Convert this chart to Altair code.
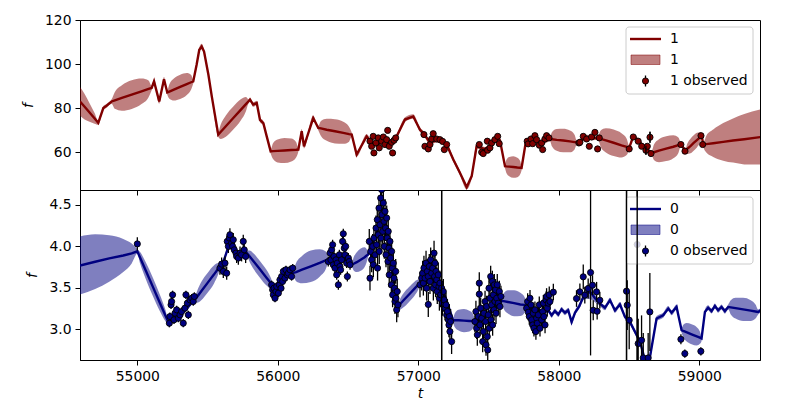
import altair as alt
import pandas as pd

T_MIN, T_MAX = 54592, 59432
X_TICKS = [55000, 56000, 57000, 58000, 59000]

# ---------------- panel "1" (top) : model curve ----------------
top_t = [54592, 54625, 54660, 54695, 54722, 54758, 54782, 54817, 54840, 54890, 54960, 55030, 55080, 55102,
         55119, 55156, 55190, 55213, 55228, 55260, 55305, 55352, 55383, 55398, 55422, 55441, 55458, 55475,
         55506, 55530, 55576, 55593, 55630, 55683, 55736, 55773, 55790, 55802, 55825, 55850, 55873, 55897,
         55921, 55949, 55965, 55998, 56047, 56096, 56130, 56146, 56170, 56186, 56252, 56288, 56307, 56348,
         56407, 56466, 56507, 56526, 56561, 56632, 56680, 56720, 56760, 56800, 56846, 56905, 56964, 57012,
         57040, 57083, 57131, 57202, 57249, 57296, 57344, 57380, 57415, 57474, 57524, 57567, 57581, 57617,
         57627, 57647, 57676, 57705, 57725, 57735, 57766, 57800, 57850, 57900, 57937, 57952, 57985, 58032,
         58079, 58112, 58127, 58160, 58200, 58240, 58280, 58298, 58335, 58390, 58446, 58483, 58501, 58530,
         58565, 58613, 58661, 58677, 58713, 58764, 58815, 58851, 58867, 58903, 58914, 58937, 58960, 58983,
         59006, 59017, 59028, 59050, 59099, 59170, 59240, 59320, 59437]
top_mean = [83.1, 80.7, 78.1, 75.5, 73.4, 80.1, 81.2, 83.1, 83.6, 84.7, 86.2, 87.7, 88.8, 89.2,
            92.2, 83.1, 93.2, 87.2, 87.6, 88.5, 89.7, 91.0, 91.8, 92.2, 99.7, 106.5, 108.0, 105.7,
            95.2, 85.4, 68.1, 69.3, 71.9, 75.6, 79.3, 81.9, 83.1, 83.9, 81.7, 82.4, 74.8, 73.3,
            67.3, 60.5, 60.6, 60.7, 60.9, 61.1, 61.2, 61.3, 69.6, 62.8, 75.6, 71.1, 70.9, 70.3,
            69.6, 68.9, 68.3, 68.1, 59.1, 67.3, 63.5, 64.0, 65.0, 63.8, 67.3, 74.9, 76.3, 70.3,
            68.5, 64.5, 65.5, 63.5, 56.8, 50.8, 44.3, 49.3, 62.8, 61.5, 64.0, 66.5, 65.5, 53.8,
            53.7, 53.6, 53.4, 53.2, 53.1, 53.0, 65.1, 65.5, 64.5, 65.0, 66.1, 66.0, 65.7, 65.4,
            65.0, 64.7, 64.6, 65.5, 67.0, 66.5, 66.6, 66.2, 65.5, 64.4, 63.2, 62.5, 62.1, 67.3,
            65.5, 62.1, 59.8, 60.1, 60.8, 61.7, 62.6, 63.3, 63.6, 60.9, 61.6, 62.9, 64.3, 65.6,
            66.9, 67.6, 63.6, 63.8, 64.2, 64.8, 65.4, 66.0, 67.0]
top_hw = [6.5, 5.8, 4.2, 2.5, 0.9, 0.9, 0.9, 1.0, 3.8, 5.8, 6.5, 5.8, 3.8, 1.0,
          1.0, 1.0, 1.0, 1.0, 3.3, 5.0, 5.5, 5.0, 3.3, 1.0, 1.0, 1.0, 1.2, 1.0,
          1.0, 1.0, 1.0, 3.2, 4.8, 5.2, 4.8, 3.2, 1.0, 1.0, 1.0, 1.0, 1.0, 1.0,
          1.0, 1.0, 3.5, 5.2, 5.7, 5.2, 3.5, 1.0, 1.0, 1.0, 1.0, 1.0, 3.4, 5.0,
          5.5, 5.0, 3.4, 1.0, 1.0, 1.0, 1.0, 1.0, 1.0, 1.0, 1.0, 1.0, 1.0, 1.0,
          1.0, 1.0, 1.0, 1.0, 1.0, 1.0, 1.0, 1.0, 1.0, 1.0, 1.0, 1.0, 1.0, 1.0,
          3.0, 4.4, 4.9, 4.4, 3.0, 1.0, 1.0, 1.0, 1.0, 1.0, 1.0, 3.3, 4.9, 5.3,
          4.9, 3.3, 1.0, 1.0, 1.0, 1.0, 1.0, 3.7, 5.5, 6.0, 5.5, 3.7, 1.0, 1.0,
          1.0, 1.0, 1.0, 3.5, 5.2, 5.6, 5.2, 3.5, 1.0, 1.0, 2.3, 3.3, 3.5, 3.3,
          2.3, 1.0, 1.0, 3.8, 6.2, 8.5, 10.0, 11.4, 12.5]

# ---------------- panel "1" (top) : observations ----------------
top_obs_t = [56656, 56668, 56679, 56684, 56698, 56715, 56722, 56739, 56751, 56763, 56775, 56782, 56793,
             56810, 56817, 56827, 56839,
             57040, 57047, 57071, 57083, 57095, 57106, 57131, 57154, 57173, 57185, 57202,
             57434, 57451, 57462, 57491, 57493, 57510, 57522, 57545, 57565, 57576,
             57775, 57782, 57802, 57814, 57830, 57842, 57861, 57878, 57885, 57901, 57913, 57930,
             58143, 58150, 58174, 58198, 58217, 58233, 58257, 58276, 58288,
             58501, 58530, 58565, 58590, 58620, 58630, 58649, 58656,
             58869, 58898, 59012, 59024]
top_obs_v = [65.1, 62.8, 67.3, 59.8, 64.3, 66.6, 62.1, 65.1, 67.0, 63.6, 65.8, 70.0, 62.8,
             64.6, 59.8, 65.5, 66.6,
             68.1, 62.8, 61.6, 63.6, 66.1, 68.5, 66.1, 65.8, 65.0, 61.3, 63.6,
             63.6, 60.1, 59.5, 65.1, 61.0, 62.1, 64.3, 65.8, 67.3, 64.0,
             65.1, 63.9, 66.1, 64.0, 67.6, 65.8, 63.3, 64.3, 61.3, 66.1, 67.6, 66.6,
             64.3, 64.6, 67.3, 66.1, 62.8, 67.0, 69.1, 61.6, 66.6,
             61.6, 67.0, 65.1, 62.8, 61.0, 62.8, 66.9, 59.5,
             63.6, 60.6, 67.6, 63.6]
top_obs_e = [1.0] * 17 + [1.0] * 11 + [1.0] * 10 + [1.0] * 12 + [1.0] * 9 + \
            [1.0, 1.0, 1.0, 1.0, 2.0, 1.0, 2.5, 1.0] + [1.0, 1.0, 1.0, 1.0]

# ---------------- panel "0" (bottom) : model curve ----------------
bot_t = [54592, 54700, 54800, 54900, 54960, 55000, 55020, 55060, 55110, 55160, 55200, 55220, 55260, 55300,
         55350, 55410, 55425, 55455, 55500, 55545, 55575, 55589, 55620, 55645, 55670, 55700, 55730, 55760,
         55780, 55797, 55830, 55874, 55918, 55951, 55968, 56000, 56040, 56080, 56110, 56130, 56172, 56235,
         56298, 56340, 56360, 56400, 56440, 56480, 56528, 56540, 56562, 56590, 56618, 56632, 56642, 56660,
         56690, 56715, 56740, 56760, 56780, 56800, 56820, 56840, 56855, 56868, 56895, 56934, 56973, 57000,
         57012, 57040, 57070, 57100, 57130, 57160, 57190, 57220, 57247, 57260, 57287, 57325, 57363, 57390,
         57403, 57430, 57460, 57500, 57540, 57593, 57608, 57638, 57682, 57726, 57756, 57771, 57800, 57830,
         57860, 57890, 57901, 57925, 57949, 57972, 57996, 58020, 58044, 58067, 58091, 58115, 58146, 58174,
         58200, 58230, 58255, 58293, 58328, 58364, 58400, 58435, 58471, 58506, 58542, 58578, 58613, 58649,
         58696, 58743, 58779, 58803, 58838, 58874, 58886, 58908, 58945, 58982, 59004, 59016, 59040, 59063,
         59087, 59111, 59134, 59158, 59182, 59206, 59224, 59258, 59312, 59366, 59400, 59419, 59437]
bot_mean = [3.77, 3.815, 3.855, 3.89, 3.915, 3.94, 3.863, 3.708, 3.515, 3.32, 3.167, 3.09, 3.15, 3.20,
            3.25, 3.36, 3.39, 3.46, 3.56, 3.66, 3.73, 3.76, 3.85, 3.98, 4.02, 3.95, 3.90, 3.88,
            3.92, 3.885, 3.815, 3.72, 3.625, 3.555, 3.52, 3.55, 3.60, 3.65, 3.68, 3.69, 3.72, 3.76,
            3.80, 3.83, 3.84, 3.88, 3.82, 3.85, 3.78, 3.79, 3.81, 3.84, 3.87, 3.89, 3.90, 3.98,
            4.10, 4.25, 4.45, 4.35, 4.10, 3.85, 3.60, 3.40, 3.28, 3.30, 3.35, 3.42, 3.49, 3.54,
            3.56, 3.68, 3.75, 3.72, 3.65, 3.55, 3.40, 3.25, 3.11, 3.11, 3.11, 3.105, 3.10, 3.10,
            3.10, 3.10, 3.15, 3.20, 3.28, 3.34, 3.34, 3.33, 3.315, 3.30, 3.295, 3.29, 3.25, 3.20,
            3.22, 3.20, 3.21, 3.23, 3.17, 3.22, 3.18, 3.24, 3.20, 3.23, 3.09, 3.20, 3.28, 3.39,
            3.45, 3.44, 3.38, 3.31, 3.26, 3.35, 3.23, 3.30, 3.15, 3.09, 2.97, 2.85, 2.63, 2.67,
            3.13, 3.17, 3.25, 3.20, 3.27, 2.99, 2.98, 2.965, 2.94, 2.915, 2.90, 2.89, 3.21, 3.26,
            3.22, 3.28, 3.23, 3.27, 3.22, 3.27, 3.265, 3.255, 3.24, 3.225, 3.215, 3.21, 3.23]
bot_hw = [0.35, 0.33, 0.28, 0.20, 0.12, 0.03, 0.07, 0.10, 0.11, 0.10, 0.07, 0.03, 0.03, 0.03,
          0.03, 0.03, 0.07, 0.11, 0.12, 0.11, 0.07, 0.03, 0.03, 0.03, 0.03, 0.03, 0.03, 0.03,
          0.03, 0.065, 0.095, 0.10, 0.095, 0.065, 0.03, 0.03, 0.03, 0.03, 0.03, 0.11, 0.165, 0.19,
          0.165, 0.11, 0.03, 0.03, 0.03, 0.03, 0.03, 0.08, 0.12, 0.135, 0.12, 0.08, 0.03, 0.03,
          0.03, 0.03, 0.03, 0.03, 0.03, 0.03, 0.03, 0.03, 0.03, 0.06, 0.085, 0.09, 0.085, 0.06,
          0.03, 0.03, 0.03, 0.03, 0.03, 0.03, 0.03, 0.03, 0.03, 0.085, 0.125, 0.14, 0.125, 0.085,
          0.03, 0.03, 0.03, 0.03, 0.03, 0.03, 0.095, 0.14, 0.157, 0.14, 0.095, 0.03, 0.03, 0.03,
          0.03, 0.03, 0.03, 0.03, 0.03, 0.03, 0.03, 0.03, 0.03, 0.03, 0.03, 0.03, 0.03, 0.04,
          0.08, 0.08, 0.05, 0.03, 0.03, 0.03, 0.03, 0.03, 0.03, 0.03, 0.03, 0.03, 0.03, 0.03,
          0.03, 0.03, 0.03, 0.03, 0.03, 0.03, 0.075, 0.11, 0.12, 0.11, 0.075, 0.03, 0.03, 0.03,
          0.03, 0.03, 0.03, 0.03, 0.03, 0.03, 0.085, 0.125, 0.14, 0.125, 0.085, 0.03, 0.03]

# ---------------- panel "0" (bottom) : observations ----------------
bot_obs_t = [55000,
             55228, 55232, 55240, 55244, 55251, 55261, 55268, 55280, 55292, 55304, 55315, 55327, 55339, 55346,
             55356, 55363, 55375, 55387, 55398, 55406,
             55588, 55600, 55612, 55624, 55636, 55640, 55648, 55655, 55659, 55671, 55678, 55683, 55690, 55702,
             55707, 55719, 55731, 55742, 55754, 55761, 55771,
             55956, 55963, 55968, 55973, 55980, 55987, 55992, 56004, 56011, 56015, 56023, 56027, 56034, 56039,
             56051, 56058, 56068, 56075, 56087, 56098, 56106,
             56359, 56371, 56378, 56383, 56390, 56395, 56400, 56407, 56414, 56419, 56423, 56431, 56438, 56442,
             56447, 56454, 56461, 56466, 56473, 56478, 56483, 56490, 56495, 56502, 56509, 56514,
             56651, 56656, 56661, 56668, 56675, 56680, 56684, 56692, 56699, 56703, 56708, 56710, 56715, 56720,
             56722, 56727, 56732, 56734, 56739, 56741, 56746, 56751, 56756, 56758, 56763, 56767, 56770, 56775,
             56779, 56784, 56786, 56791, 56793, 56798, 56803, 56808, 56810, 56815, 56817, 56822, 56827, 56831,
             56834, 56839, 56841, 56846, 56850, 56855,
             57012, 57024, 57031, 57036, 57040, 57048, 57055, 57059, 57064, 57071, 57071, 57078, 57083, 57088,
             57095, 57102, 57107, 57112, 57116, 57119, 57123, 57126, 57131, 57135, 57142, 57147, 57150, 57154,
             57159, 57166, 57171, 57178, 57183, 57190, 57197, 57202, 57207, 57214, 57218, 57221, 57225, 57230,
             57237,
             57403, 57410, 57415, 57420, 57427, 57434, 57434, 57439, 57444, 57451, 57458, 57463, 57467, 57475,
             57479, 57482, 57486, 57491, 57494, 57498, 57503, 57505, 57510, 57515, 57517, 57522, 57527, 57529,
             57534, 57539, 57541, 57546, 57550, 57553, 57558, 57562, 57569, 57577, 57581, 57588,
             57771, 57778, 57783, 57790, 57795, 57802, 57807, 57814, 57818, 57823, 57830, 57837, 57842, 57847,
             57854, 57861, 57866, 57878, 57885, 57890, 57894, 57902, 57909, 57913, 57918, 57925, 57932, 57937,
             57961,
             58126, 58150, 58174, 58185, 58209, 58226, 58240, 58245, 58269, 58273, 58292,
             58482, 58487, 58501, 58558, 58565, 58589, 58601, 58636, 58648,
             58869, 58897, 59011]
bot_obs_v = [4.03,
             3.074, 3.154, 3.295, 3.335, 3.416, 3.114, 3.194, 3.235, 3.134, 3.174, 3.214, 3.074, 3.255, 3.416,
             3.315, 3.174, 3.355, 3.375, 3.335, 3.396,
             3.738, 3.786, 3.698, 3.798, 3.677, 4.060, 4.0, 4.10, 4.14, 4.04, 4.0, 4.08, 3.959, 3.919,
             3.879, 3.859, 3.919, 3.899, 4.06, 3.959, 3.879,
             3.537, 3.476, 3.416, 3.496, 3.375, 3.456, 3.516, 3.436, 3.537, 3.597, 3.496, 3.637, 3.577, 3.698,
             3.617, 3.718, 3.657, 3.677, 3.718, 3.637, 3.738,
             3.818, 3.919, 3.838, 3.959, 4.020, 3.778, 3.879, 3.738, 3.838, 3.657, 3.798, 3.537, 3.899, 3.758,
             3.718, 3.838, 4.060, 4.152, 3.979, 3.899, 4.0, 3.798, 3.637, 3.859, 3.818, 3.778,
             4.060, 3.617, 3.939, 3.838, 4.0, 3.778, 4.10, 3.899, 4.221, 4.020, 4.322, 3.738, 4.140, 4.462,
             3.939, 4.261, 4.583, 4.10, 4.684, 4.382, 4.181, 4.523, 4.301, 4.0, 4.422, 4.221, 3.899, 4.342,
             4.10, 3.818, 4.181, 3.979, 3.657, 4.060, 3.859, 3.537, 3.939, 3.738, 3.416, 3.798, 3.617, 3.496,
             3.335, 3.698, 3.375, 3.235, 3.456, 3.295,
             3.537, 3.617, 3.677, 3.557, 3.738, 3.617, 3.798, 3.496, 3.698, 3.637, 3.30, 3.758, 3.577, 3.838,
             3.677, 3.738, 3.496, 3.919, 3.637, 3.798, 3.537, 3.698, 3.597, 3.456, 3.657, 3.516, 3.375, 3.557,
             3.416, 3.496, 3.315, 3.456, 3.355, 3.255, 3.295, 3.174, 3.214, 3.114, 3.053, 3.154, 2.973, 3.094,
             2.852,
             3.094, 3.214, 3.013, 2.933, 3.154, 3.557, 3.424, 3.053, 3.255, 3.134, 2.852, 2.973, 3.194, 3.335,
             3.094, 2.812, 3.275, 2.912, 2.751, 3.174, 3.496, 3.013, 3.375, 3.637, 3.114, 3.295, 3.577, 3.053,
             3.416, 3.235, 3.537, 3.335, 3.476, 3.194, 3.375, 3.537, 3.315, 3.456, 3.275, 3.396,
             3.255, 3.335, 3.206, 3.154, 3.375, 3.295, 3.114, 3.053, 3.194, 3.013, 3.235, 2.973, 3.134, 3.074,
             3.174, 3.295, 3.013, 3.114, 3.214, 3.315, 3.154, 3.053, 3.355, 3.396, 3.255, 3.315, 3.416, 3.335,
             3.448,
             3.371, 3.452, 3.633, 3.412, 3.492, 3.685, 3.532, 3.23, 3.452, 3.218, 3.351,
             3.46, 3.291, 3.11, 4.023, 2.828, 2.868, 2.655, 2.655, 3.21,
             2.88, 2.707, 2.735]
bot_obs_e = [0.08] + [0.05] * 20 + [0.08] * 21 + [0.05] * 21 + [0.06] * 26 + [0.15] * 48 + \
            [0.15] * 29 + [3.0] + [0.15] * 13 + [0.13] * 40 + [0.10] * 29 + \
            [0.10, 0.10, 0.15, 0.10, 0.12, 1.0, 0.12, 0.12, 0.12, 0.10, 0.10] + \
            [2.5, 0.30, 0.35, 2.5, 0.30, 0.30, 0.30, 0.30, 0.47] + [0.06, 0.05, 0.05]

FONT = "DejaVu Sans"
FS = 13.9


def model_table(t, m, hw):
    df = pd.DataFrame({"t": t, "mean": m, "hw": hw})
    df["lo"] = df["mean"] - df["hw"]
    df["hi"] = df["mean"] + df["hw"]
    return df


def obs_table(t, v, e):
    df = pd.DataFrame({"t": t, "v": v, "e": e})
    df["lo"] = df["v"] - df["e"]
    df["hi"] = df["v"] + df["e"]
    return df


def panel(model, obs, color, name, y_domain, y_ticks, y_fmt, bottom):
    if bottom:
        xaxis = alt.Axis(values=X_TICKS, format="d", title="t", titleFontStyle="italic",
                         titleFontWeight="normal", titlePadding=4, labelPadding=4)
    else:
        xaxis = alt.Axis(values=X_TICKS, labels=False, title="")
    yaxis = alt.Axis(values=y_ticks, format=y_fmt, title="f", titleFontStyle="italic",
                     titleFontWeight="normal", titlePadding=9, labelPadding=4)
    xs = alt.Scale(domain=[T_MIN, T_MAX], nice=False, zero=False)
    ys = alt.Scale(domain=y_domain, nice=False, zero=False)

    def X():
        return alt.X("t:Q", scale=xs, axis=xaxis)

    def Y(f):
        return alt.Y(f"{f}:Q", scale=ys, axis=yaxis)

    band = alt.Chart(model).mark_area(color=color, opacity=0.5, interpolate="monotone", clip=True).encode(
        x=X(), y=Y("lo"), y2="hi:Q")
    line = alt.Chart(model).mark_line(color=color, strokeWidth=2.4, clip=True).encode(
        x=X(), y=Y("mean"))
    ebar = alt.Chart(obs).mark_rule(color="black", strokeWidth=1.3, clip=True).encode(
        x=X(), y=Y("lo"), y2="hi:Q")
    pts = alt.Chart(obs).mark_point(shape="circle", filled=True, fill=color, stroke="black",
                                    strokeWidth=0.9, fillOpacity=1, strokeOpacity=1, size=38,
                                    clip=True).encode(x=X(), y=Y("v"))

    one = pd.DataFrame({"k": [0]})
    lx = 546
    frame = alt.Chart(one).mark_rect(fill="white", fillOpacity=0.8, stroke="#cccccc", strokeWidth=1,
                                     cornerRadius=3).encode(
        x=alt.value(lx), x2=alt.value(lx + 127), y=alt.value(7), y2=alt.value(74))
    leg_line = alt.Chart(one).mark_rule(color=color, strokeWidth=2.4).encode(
        x=alt.value(lx + 4), x2=alt.value(lx + 35), y=alt.value(19))
    leg_patch = alt.Chart(one).mark_rect(fill=color, fillOpacity=0.5, stroke=color, strokeOpacity=0.5).encode(
        x=alt.value(lx + 5), x2=alt.value(lx + 34), y=alt.value(35), y2=alt.value(44.5))
    leg_bar = alt.Chart(one).mark_rule(color="black", strokeWidth=1.3).encode(
        x=alt.value(lx + 19.5), y=alt.value(55.5), y2=alt.value(66.5))
    leg_pt = alt.Chart(one).mark_point(shape="circle", filled=True, fill=color, stroke="black",
                                       strokeWidth=0.9, fillOpacity=1, size=38).encode(
        x=alt.value(lx + 19.5), y=alt.value(61))
    texts = []
    for yy, txt in [(19, name), (40, name), (61, f"{name} observed")]:
        texts.append(alt.Chart(one).mark_text(align="left", baseline="middle", font=FONT, fontSize=FS,
                                              color="black").encode(
            x=alt.value(lx + 44), y=alt.value(yy), text=alt.value(txt)))

    layers = [band, line, ebar, pts, frame, leg_line, leg_patch, leg_bar, leg_pt] + texts
    big = obs[obs["e"] >= 2]
    if len(big):
        layers.append(alt.Chart(big).mark_rule(color="black", strokeWidth=1.3, clip=True).encode(
            x=X(), y=Y("lo"), y2="hi:Q"))
    return alt.layer(*layers).properties(width=680, height=170)


top = panel(model_table(top_t, top_mean, top_hw), obs_table(top_obs_t, top_obs_v, top_obs_e),
            "#800000", "1", [43, 120], [60, 80, 100, 120], "d", False)
bot = panel(model_table(bot_t, bot_mean, bot_hw), obs_table(bot_obs_t, bot_obs_v, bot_obs_e),
            "#000080", "0", [2.63, 4.68], [3.0, 3.5, 4.0, 4.5], ".1f", True)

chart = alt.vconcat(top, bot, spacing=0, bounds="flush").properties(
    padding={"left": 12, "top": 4, "right": 5, "bottom": 5}
).configure(font=FONT).configure_view(stroke="black", strokeWidth=1).configure_axis(
    grid=False, domainColor="black", domainWidth=1, tickColor="black", tickSize=5, tickWidth=1,
    labelColor="black", titleColor="black", labelFontSize=FS, titleFontSize=FS, labelFont=FONT,
    titleFont=FONT
)

chart.save("out.html", embed_options={"renderer": "svg", "actions": False})
